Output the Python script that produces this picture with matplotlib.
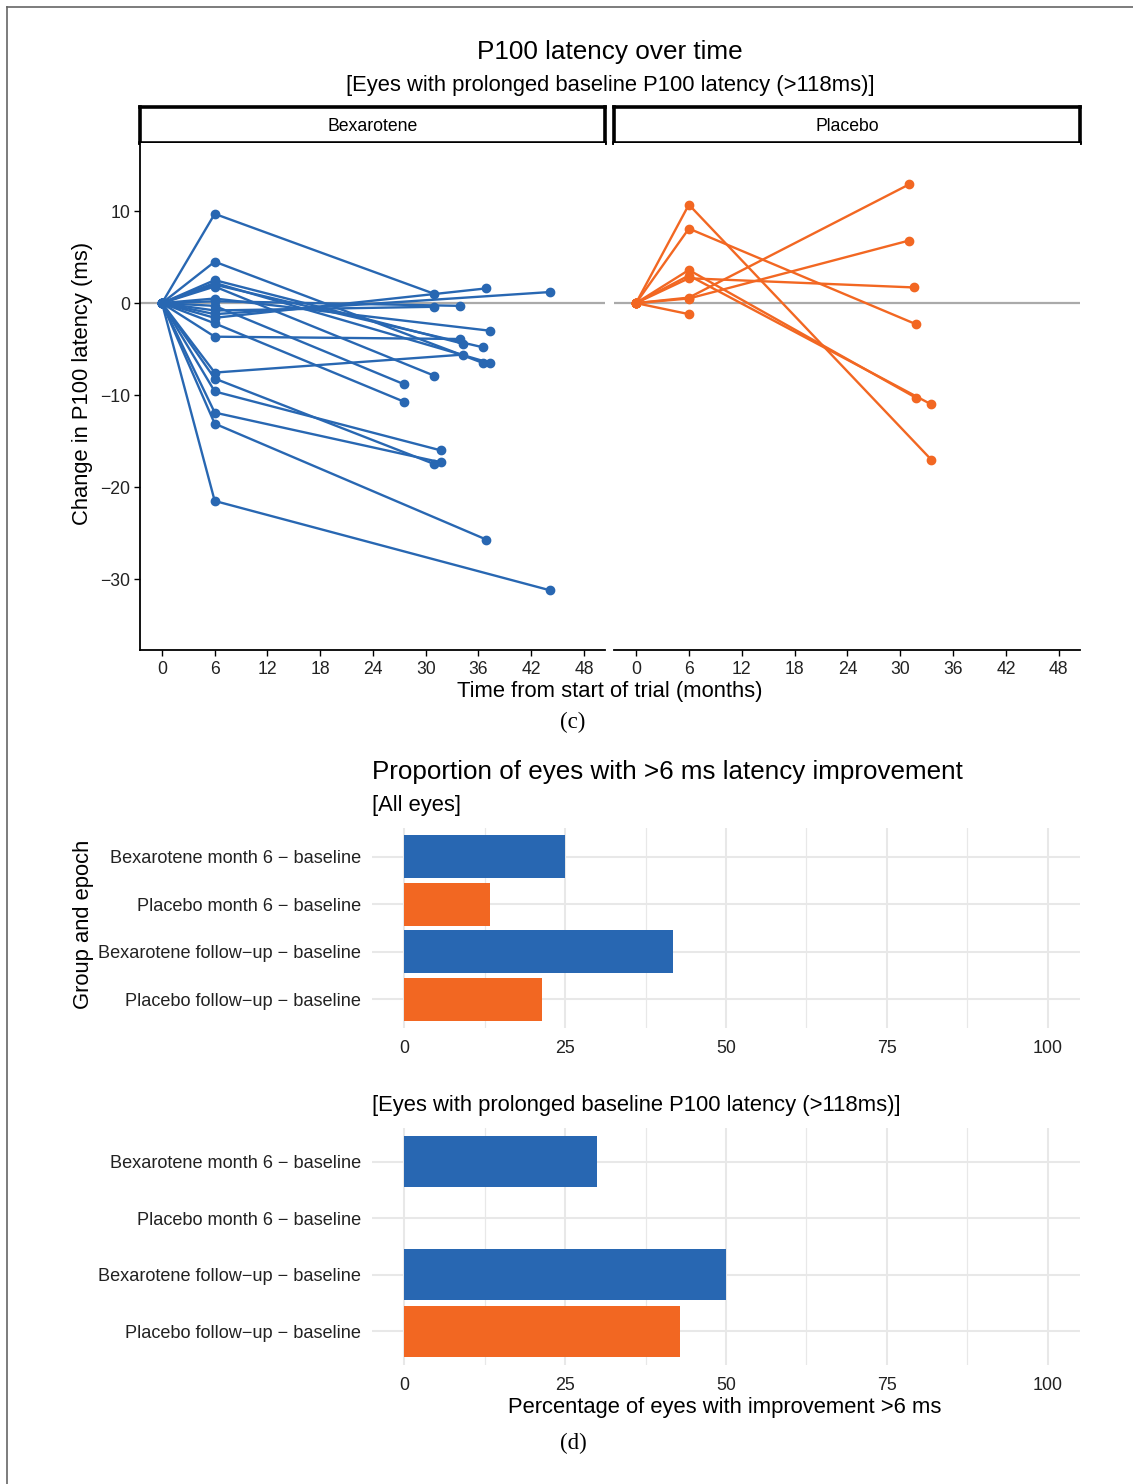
import numpy as np
import matplotlib
matplotlib.use('Agg')
import matplotlib.pyplot as plt
from matplotlib.lines import Line2D

plt.rcParams['font.family'] = ['Liberation Sans', 'DejaVu Sans']

#data
#bexarotene eyes: baseline (month 0) = 0, month 6 change, then follow-up visit
bex_m6 = [9.7, -1.6, -1.2, -0.8, 0.2, 0.5, -3.65, 2.5, 2.0, -7.55,
          4.5, 2.2, 1.8, -0.3, -2.2, -9.6, -8.2, -11.9, -13.1, -21.5]
bex_fu_month = [31.0, 36.9, 44.1, 31.0, 33.9, 37.3, 33.9, 34.2, 36.5, 34.2,
                36.5, 37.3, 31.0, 27.5, 27.5, 31.7, 31.0, 31.7, 36.9, 44.1]
bex_fu = [1.0, 1.6, 1.2, -0.4, -0.3, -3.0, -3.9, -4.4, -4.8, -5.6,
          -6.5, -6.5, -7.9, -8.8, -10.7, -16.0, -17.5, -17.3, -25.7, -31.2]

pla_m6 = [10.7, 8.1, 3.6, 3.0, 2.7, 0.6, 0.5, -1.2]
pla_fu_month = [33.5, 31.8, 31.8, 33.5, 31.6, 31.0, 31.0, np.nan]
pla_fu = [-17.0, -2.3, -10.3, -11.0, 1.7, 12.9, 6.8, np.nan]

month_ticks = [0, 6, 12, 18, 24, 30, 36, 42, 48]
latency_ticks = [10, 0, -10, -20, -30]

groups = ['Bexarotene month 6 \u2212 baseline', 'Placebo month 6 \u2212 baseline',
          'Bexarotene follow\u2212up \u2212 baseline', 'Placebo follow\u2212up \u2212 baseline']
pct_all = [25.0, 13.3, 41.7, 21.4]
pct_prolonged = [30.0, 0.0, 50.0, 42.9]
pct_ticks = [0, 25, 50, 75, 100]

blue = '#2867b2'
orange = '#f26722'
bar_cols = [blue, orange, blue, orange]

W, H = 1133, 1484
fig = plt.figure(figsize=(W/100, H/100), dpi=100)

def px_axes(x0, y0, x1, y1):
    return fig.add_axes([x0/W, 1 - y1/H, (x1 - x0)/W, (y1 - y0)/H])

def px_text(x, y, s, **kw):
    return fig.text(x/W, 1 - y/H, s, **kw)

#outer frame (top and left only visible)
fig.add_artist(Line2D([7/W, 7/W], [0, 1 - 7/H], color='#666666', lw=1.2))
fig.add_artist(Line2D([7/W, 1], [1 - 7/H, 1 - 7/H], color='#666666', lw=1.2))

#%% top: latency over time
px_text(610, 52, 'P100 latency over time', ha='center', va='center', fontsize=18.8)
px_text(610, 86, '[Eyes with prolonged baseline P100 latency (>118ms)]',
        ha='center', va='center', fontsize=15.8)

panels = [('Bexarotene', bex_m6, bex_fu_month, bex_fu, blue, 140, 605),
          ('Placebo', pla_m6, pla_fu_month, pla_fu, orange, 614, 1080)]
for i, (name, m6, fum, fuv, col, x0, x1) in enumerate(panels):
    strip = px_axes(x0, 107, x1, 143)
    strip.set_xticks([])
    strip.set_yticks([])
    for sp in strip.spines.values():
        sp.set_linewidth(2.6)
        sp.set_color('black')
    strip.text(0.5, 0.47, name, ha='center', va='center', fontsize=12.7,
               transform=strip.transAxes)

    ax = px_axes(x0, 143, x1, 650)
    ax.axhline(0, color='#aaaaaa', lw=1.6, zorder=1)
    for a, fm, fv in zip(m6, fum, fuv):
        mo = [0, 6]
        vals = [0, a]
        if not np.isnan(fv):
            mo.append(fm)
            vals.append(fv)
        ax.plot(mo, vals, '-o', color=col, lw=1.7, ms=6, zorder=3,
                solid_capstyle='round')
    ax.set_xlim(-2.5, 50.4)
    ax.set_ylim(-37.7, 17.4)
    ax.set_xticks(month_ticks)
    ax.spines['top'].set_visible(False)
    ax.spines['right'].set_visible(False)
    ax.spines['bottom'].set_linewidth(1.3)
    ax.tick_params(axis='x', length=4, width=1, pad=4, labelsize=12.7,
                   labelcolor='#222222')
    if i == 0:
        ax.set_yticks(latency_ticks)
        ax.spines['left'].set_linewidth(1.3)
        ax.tick_params(axis='y', length=4, width=1, pad=3, labelsize=12.7,
                       labelcolor='#222222')
    else:
        ax.spines['left'].set_visible(False)
        ax.set_yticks([])

px_text(610, 692, 'Time from start of trial (months)', ha='center', va='center',
        fontsize=15.8)
px_text(83, 383, 'Change in P100 latency (ms)', ha='center', va='center',
        rotation=90, fontsize=15.8)
px_text(573, 722, '(c)', ha='center', va='center', fontsize=16.5,
        family=['Liberation Serif', 'DejaVu Serif'])

#%% bottom: proportions
px_text(372, 772, 'Proportion of eyes with >6 ms latency improvement',
        ha='left', va='center', fontsize=18.7)
px_text(372, 806, '[All eyes]', ha='left', va='center', fontsize=15.8)
px_text(372, 1106, '[Eyes with prolonged baseline P100 latency (>118ms)]',
        ha='left', va='center', fontsize=15.8)

pos = np.arange(1, 5)
for vals, (y0, y1) in [(pct_all, (828, 1028)), (pct_prolonged, (1128, 1365))]:
    ax = px_axes(372, y0, 1080, y1)
    ax.barh(pos, vals, height=0.9, color=bar_cols, zorder=3)
    ax.set_xlim(-5, 105)
    ax.set_ylim(4.6, 0.4)
    ax.set_xticks(pct_ticks)
    ax.set_xticks([12.5, 37.5, 62.5, 87.5], minor=True)
    ax.set_yticks(pos)
    ax.set_yticklabels(groups)
    ax.grid(True, which='major', color='#e8e8e8', lw=1.5, zorder=0)
    ax.grid(True, which='minor', axis='x', color='#e8e8e8', lw=0.9, zorder=0)
    ax.set_axisbelow(True)
    for sp in ax.spines.values():
        sp.set_visible(False)
    ax.tick_params(which='both', length=0)
    ax.tick_params(axis='y', pad=8, labelsize=13.05, labelcolor='#222222')
    ax.tick_params(axis='x', pad=8.5, labelsize=12.9, labelcolor='#222222')

px_text(83, 924, 'Group and epoch', ha='center', va='center', rotation=90,
        fontsize=15.8)
px_text(725, 1407, 'Percentage of eyes with improvement >6 ms', ha='center',
        va='center', fontsize=15.8)
px_text(573, 1443, '(d)', ha='center', va='center', fontsize=16.5,
        family=['Liberation Serif', 'DejaVu Serif'])

fig.savefig('out.png', dpi=100, facecolor='white')
